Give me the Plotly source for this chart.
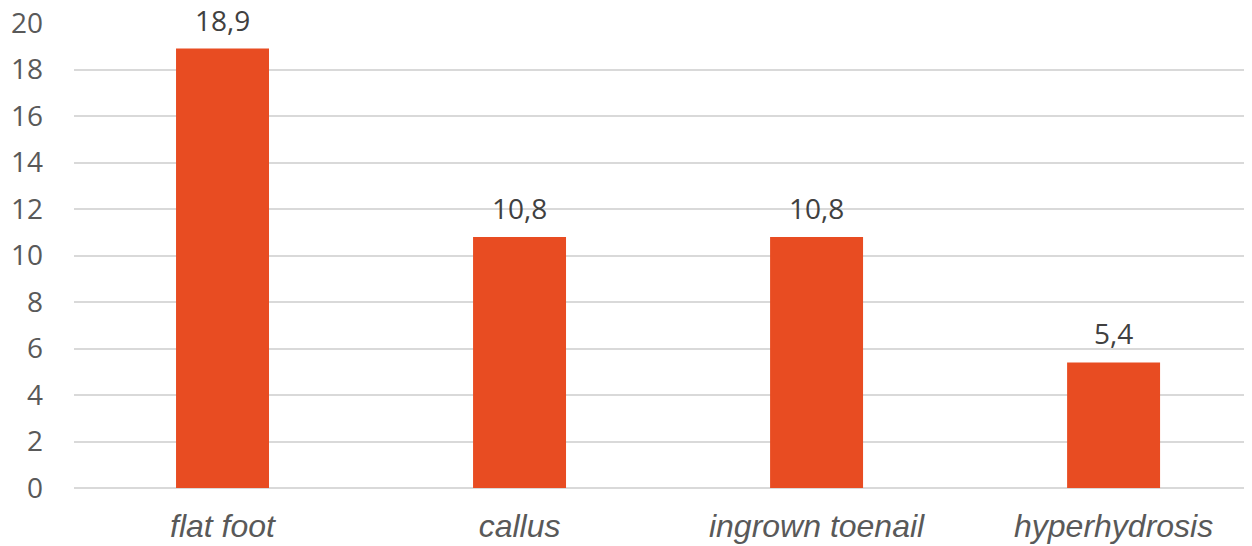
import plotly.graph_objects as go

categories = ["flat foot", "callus", "ingrown toenail", "hyperhydrosis"]
values = [18.9, 10.8, 10.8, 5.4]
y_ticks = [0, 2, 4, 6, 8, 10, 12, 14, 16, 18, 20]

bar_color = "#E84C22"

fig = go.Figure()
fig.add_trace(go.Bar(
    x=list(range(len(categories))),
    y=values,
    marker=dict(color=bar_color, line=dict(width=0)),
    width=0.313,
    hoverinfo="skip",
))

for i, v in enumerate(values):
    fig.add_annotation(
        x=i, y=v, xref="x", yref="y",
        text=f"{v:.1f}".replace(".", ","),
        showarrow=False, yanchor="bottom", yshift=8,
        font=dict(family="Open Sans", size=28, color="#404040"),
    )

fig.update_layout(
    width=1252, height=546,
    margin=dict(l=66, r=8, t=15, b=66, autoexpand=False),
    plot_bgcolor="white", paper_bgcolor="white",
    showlegend=False,
    xaxis=dict(
        range=[-0.5, 3.466],
        tickmode="array",
        tickvals=list(range(len(categories))),
        ticktext=[f"<i>{c}</i>" for c in categories],
        tickfont=dict(family="Liberation Sans", size=32, color="#595959"),
        showgrid=False, zeroline=False, showline=False,
        ticks="", ticklabelstandoff=16, automargin=False,
    ),
    yaxis=dict(
        range=[0, 20.001],
        tickmode="array",
        tickvals=y_ticks,
        ticktext=[str(t) for t in y_ticks],
        tickfont=dict(family="Open Sans", size=28, color="#595959"),
        ticklabeloverflow="allow", automargin=False,
        showgrid=True, gridcolor="#D9D9D9", gridwidth=1.5,
        zeroline=True, zerolinecolor="#D9D9D9", zerolinewidth=1.5,
        showline=False, ticks="", ticklabelstandoff=30,
    ),
)

fig.write_html("out.html")
